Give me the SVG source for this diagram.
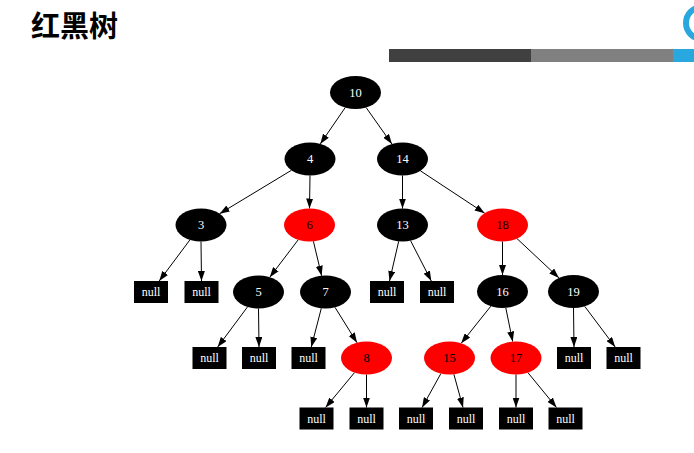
<svg xmlns="http://www.w3.org/2000/svg" width="694" height="453" viewBox="0 0 694 453">
<style>
.title{font-family:"Liberation Sans","Noto Sans CJK SC",sans-serif;font-weight:bold;font-size:29px;fill:#000}
.b{fill:#000;stroke:none}
.r{fill:#ff0000;stroke:none}
.lw{font-family:"Liberation Serif",serif;font-size:12.5px;fill:#fff;text-anchor:middle;dominant-baseline:central}
.lk{font-family:"Liberation Serif",serif;font-size:12.5px;fill:#000;text-anchor:middle;dominant-baseline:central}
.nl{font-family:"Liberation Serif",serif;font-size:12px;fill:#fff;text-anchor:middle;dominant-baseline:central}
#edges line{stroke:#000;stroke-width:1;marker-end:url(#ah)}
</style>
<defs>
<marker id="ah" markerUnits="userSpaceOnUse" markerWidth="10" markerHeight="7" refX="10" refY="3.5" orient="auto">
<path d="M0,0 L10,3.5 L0,7 z" fill="#000"/>
</marker>
</defs>
<rect width="694" height="453" fill="#fff"/>
<g id="header">
<text class="title" x="31" y="37">红黑树</text>
<rect x="389" y="49" width="142" height="13" fill="#404040"/>
<rect x="531" y="49" width="142" height="13" fill="#808080"/>
<rect x="673" y="49" width="21" height="13" fill="#29a8e0"/>
<circle cx="702" cy="23" r="16" fill="none" stroke="#29a8e0" stroke-width="6"/>
</g>
<g id="edges">
<line x1="345.2" y1="107.6" x2="320.3" y2="143.9"/>
<line x1="366.1" y1="107.5" x2="391.9" y2="144"/>
<line x1="291.4" y1="170.3" x2="219.6" y2="213.7"/>
<line x1="310" y1="175.5" x2="309.5" y2="208.5"/>
<line x1="402.5" y1="175.5" x2="402.5" y2="208.5"/>
<line x1="420.4" y1="170.8" x2="484.7" y2="213.2"/>
<line x1="189.9" y1="239.9" x2="159.2" y2="281"/>
<line x1="201" y1="241.5" x2="201.5" y2="281"/>
<line x1="298.2" y1="239.8" x2="269.8" y2="277.2"/>
<line x1="313.4" y1="241.3" x2="321.6" y2="275.7"/>
<line x1="398.7" y1="241.3" x2="389.5" y2="281"/>
<line x1="410.6" y1="240.7" x2="431.3" y2="281"/>
<line x1="502.5" y1="241.5" x2="502.5" y2="275"/>
<line x1="517" y1="238.6" x2="559" y2="277.9"/>
<line x1="247.5" y1="306.9" x2="217.7" y2="347"/>
<line x1="258.5" y1="308.5" x2="259" y2="347"/>
<line x1="321.3" y1="308.3" x2="311.3" y2="347"/>
<line x1="335" y1="307.3" x2="357" y2="342.7"/>
<line x1="490.8" y1="306.2" x2="461.2" y2="343.3"/>
<line x1="505.8" y1="307.9" x2="512.7" y2="341.6"/>
<line x1="573.5" y1="308" x2="574" y2="347"/>
<line x1="584.7" y1="306.3" x2="615.2" y2="347"/>
<line x1="354.5" y1="372.6" x2="325.6" y2="407.5"/>
<line x1="366.5" y1="374.5" x2="366.5" y2="407.5"/>
<line x1="440.9" y1="373.5" x2="422.1" y2="407.5"/>
<line x1="453.9" y1="374.3" x2="463" y2="407.5"/>
<line x1="516" y1="374.5" x2="516" y2="407.5"/>
<line x1="527.9" y1="372.6" x2="556.5" y2="407.5"/>
</g>
<g id="n10"><ellipse class="b" cx="355.5" cy="92.5" rx="25.5" ry="16.5"/><text class="lw" x="355.5" y="92.5">10</text></g>
<g id="n4"><ellipse class="b" cx="310" cy="159" rx="25.5" ry="16.5"/><text class="lw" x="310" y="159">4</text></g>
<g id="n14"><ellipse class="b" cx="402.5" cy="159" rx="25.5" ry="16.5"/><text class="lw" x="402.5" y="159">14</text></g>
<g id="n3"><ellipse class="b" cx="201" cy="225" rx="25.5" ry="16.5"/><text class="lw" x="201" y="225">3</text></g>
<g id="n6"><ellipse class="r" cx="309.5" cy="225" rx="25.5" ry="16.5"/><text class="lk" x="309.5" y="225">6</text></g>
<g id="n13"><ellipse class="b" cx="402.5" cy="225" rx="25.5" ry="16.5"/><text class="lw" x="402.5" y="225">13</text></g>
<g id="n18"><ellipse class="r" cx="502.5" cy="225" rx="25.5" ry="16.5"/><text class="lk" x="502.5" y="225">18</text></g>
<g id="null1"><rect class="b" x="134" y="281" width="34" height="22"/><text class="nl" x="151" y="292">null</text></g>
<g id="null2"><rect class="b" x="184.5" y="281" width="34" height="22"/><text class="nl" x="201.5" y="292">null</text></g>
<g id="n5"><ellipse class="b" cx="258.5" cy="292" rx="25.5" ry="16.5"/><text class="lw" x="258.5" y="292">5</text></g>
<g id="n7"><ellipse class="b" cx="325.5" cy="292" rx="25.5" ry="16.5"/><text class="lw" x="325.5" y="292">7</text></g>
<g id="null3"><rect class="b" x="370" y="281" width="34" height="22"/><text class="nl" x="387" y="292">null</text></g>
<g id="null4"><rect class="b" x="420" y="281" width="34" height="22"/><text class="nl" x="437" y="292">null</text></g>
<g id="n16"><ellipse class="b" cx="502.5" cy="291.5" rx="25.5" ry="16.5"/><text class="lw" x="502.5" y="291.5">16</text></g>
<g id="n19"><ellipse class="b" cx="573.5" cy="291.5" rx="25.5" ry="16.5"/><text class="lw" x="573.5" y="291.5">19</text></g>
<g id="null5"><rect class="b" x="192.5" y="347" width="34" height="22"/><text class="nl" x="209.5" y="358">null</text></g>
<g id="null6"><rect class="b" x="242" y="347" width="34" height="22"/><text class="nl" x="259" y="358">null</text></g>
<g id="null7"><rect class="b" x="291.5" y="347" width="34" height="22"/><text class="nl" x="308.5" y="358">null</text></g>
<g id="n8"><ellipse class="r" cx="366.5" cy="358" rx="25.5" ry="16.5"/><text class="lk" x="366.5" y="358">8</text></g>
<g id="n15"><ellipse class="r" cx="449.5" cy="358" rx="25.5" ry="16.5"/><text class="lk" x="449.5" y="358">15</text></g>
<g id="n17"><ellipse class="r" cx="516" cy="358" rx="25.5" ry="16.5"/><text class="lk" x="516" y="358">17</text></g>
<g id="null8"><rect class="b" x="557" y="347" width="34" height="22"/><text class="nl" x="574" y="358">null</text></g>
<g id="null9"><rect class="b" x="606.5" y="347" width="34" height="22"/><text class="nl" x="623.5" y="358">null</text></g>
<g id="null10"><rect class="b" x="299.5" y="407.5" width="34" height="22"/><text class="nl" x="316.5" y="418.5">null</text></g>
<g id="null11"><rect class="b" x="349.5" y="407.5" width="34" height="22"/><text class="nl" x="366.5" y="418.5">null</text></g>
<g id="null12"><rect class="b" x="399" y="407.5" width="34" height="22"/><text class="nl" x="416" y="418.5">null</text></g>
<g id="null13"><rect class="b" x="449" y="407.5" width="34" height="22"/><text class="nl" x="466" y="418.5">null</text></g>
<g id="null14"><rect class="b" x="499" y="407.5" width="34" height="22"/><text class="nl" x="516" y="418.5">null</text></g>
<g id="null15"><rect class="b" x="548.5" y="407.5" width="34" height="22"/><text class="nl" x="565.5" y="418.5">null</text></g>
</svg>
